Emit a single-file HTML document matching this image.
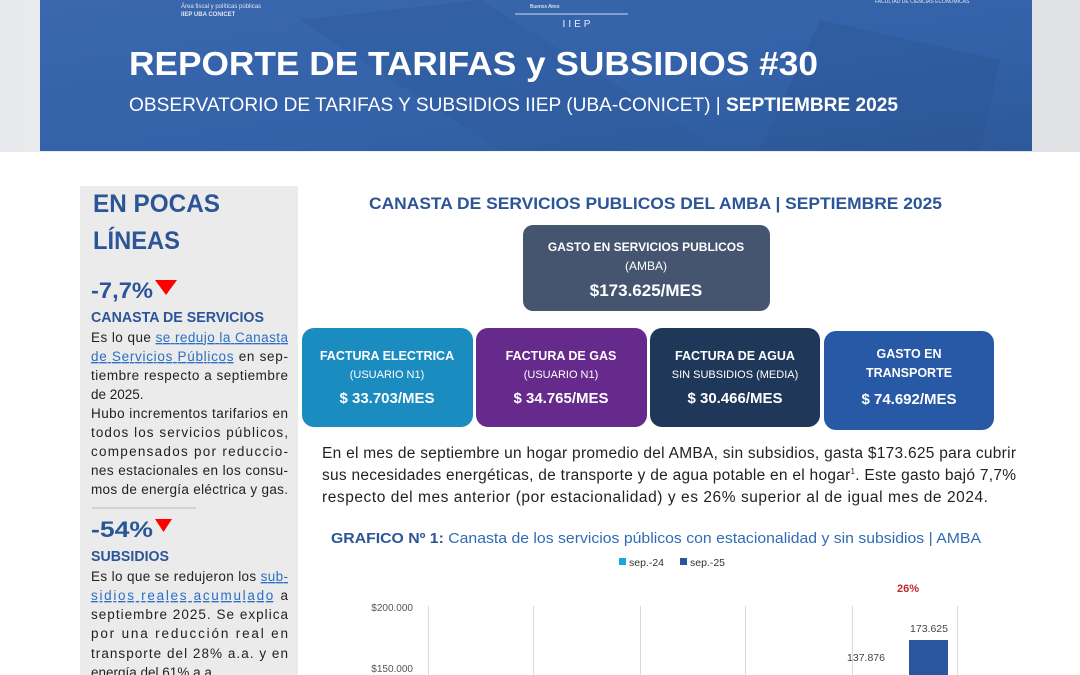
<!DOCTYPE html>
<html><head><meta charset="utf-8"><style>
html,body{margin:0;padding:0;background:#fff;}
svg{display:block;font-family:"Liberation Sans",sans-serif;}
</style></head><body>
<svg width="1080" height="675" viewBox="0 0 1080 675" xmlns="http://www.w3.org/2000/svg">
<defs>
<linearGradient id="bg" x1="0" x2="1">
<stop offset="0" stop-color="#e8e9ec"/><stop offset="0.5" stop-color="#f4f4f6"/><stop offset="1" stop-color="#dfe1e4"/></linearGradient>
<linearGradient id="band" x1="0" x2="1" y1="0" y2="1">
<stop offset="0" stop-color="#3a67ad"/><stop offset="0.6" stop-color="#3362a9"/><stop offset="1" stop-color="#2d5899"/></linearGradient>
</defs>
<rect x="0" y="0" width="1080" height="152" fill="url(#bg)"/>
<rect x="40" y="0" width="992" height="151" fill="url(#band)"/>
<path d="M480 0 L720 150 L500 150 L300 20 Z" fill="#2f5b9c" opacity="0.45"/>
<path d="M820 20 L1000 60 L980 150 L760 150 Z" fill="#2a548f" opacity="0.35"/>
<text x="181" y="8" font-size="6" fill="#dfe6f2">Área fiscal y políticas públicas</text>
<text x="181" y="16" font-size="6" fill="#dfe6f2" font-weight="bold">IIEP UBA CONICET</text>
<text x="530" y="8" font-size="5" fill="#fff">Buenos Aires</text>
<line x1="515" y1="14" x2="628" y2="14" stroke="#cdd8ea" stroke-width="1"/>
<text x="578" y="27" font-size="10" fill="#e8eef8" text-anchor="middle" letter-spacing="3">IIEP</text>
<text x="875" y="3" font-size="5" fill="#dfe6f2">FACULTAD DE CIENCIAS ECONÓMICAS</text>
<text x="129" y="75" font-size="33" font-weight="bold" fill="#fff" textLength="689" lengthAdjust="spacingAndGlyphs">REPORTE DE TARIFAS y SUBSIDIOS #30</text>
<text x="129" y="111" font-size="19" fill="#fff" textLength="769" lengthAdjust="spacingAndGlyphs">OBSERVATORIO DE TARIFAS Y SUBSIDIOS IIEP (UBA-CONICET) | <tspan font-weight="bold">SEPTIEMBRE 2025</tspan></text>

<!-- sidebar -->
<rect x="80" y="186" width="218" height="489" fill="#ebebeb"/>
<g fill="#2c5598" font-weight="bold">
<text x="93" y="212" font-size="25" textLength="127" lengthAdjust="spacingAndGlyphs">EN POCAS</text>
<text x="93" y="249" font-size="25" textLength="87" lengthAdjust="spacingAndGlyphs">LÍNEAS</text>
<text x="91" y="298" font-size="22" textLength="62" lengthAdjust="spacingAndGlyphs">-7,7%</text>
<text x="91" y="322" font-size="14.5" textLength="173" lengthAdjust="spacingAndGlyphs">CANASTA DE SERVICIOS</text>
<text x="91" y="537" font-size="22" textLength="62" lengthAdjust="spacingAndGlyphs">-54%</text>
<text x="91" y="561" font-size="14.5" textLength="78" lengthAdjust="spacingAndGlyphs">SUBSIDIOS</text>
</g>
<path d="M155 280 L177 280 L166 295 Z" fill="#f00"/>
<path d="M155 519 L172 519 L163.5 532 Z" fill="#f00"/>
<line x1="92" y1="508" x2="196" y2="508" stroke="#bbb" stroke-width="1"/>
<g font-size="13.5" fill="#222" lengthAdjust="spacing">
<text x="91" y="342" textLength="197">Es lo que <tspan fill="#2b6fc4" text-decoration="underline">se redujo la Canasta</tspan></text>
<text x="91" y="361" textLength="197"><tspan fill="#2b6fc4" text-decoration="underline">de Servicios Públicos</tspan> en sep-</text>
<text x="91" y="380" textLength="197">tiembre respecto a septiembre</text>
<text x="91" y="399">de 2025.</text>
<text x="91" y="418" textLength="197">Hubo incrementos tarifarios en</text>
<text x="91" y="437" textLength="197">todos los servicios públicos,</text>
<text x="91" y="456" textLength="197">compensados por reduccio-</text>
<text x="91" y="475" textLength="197">nes estacionales en los consu-</text>
<text x="91" y="494" textLength="197">mos de energía eléctrica y gas.</text>
<text x="91" y="581" textLength="197">Es lo que se redujeron los <tspan fill="#2b6fc4" text-decoration="underline">sub-</tspan></text>
<text x="91" y="600" textLength="197"><tspan fill="#2b6fc4" text-decoration="underline">sidios reales acumulado</tspan> a</text>
<text x="91" y="619" textLength="197">septiembre 2025. Se explica</text>
<text x="91" y="638" textLength="197">por una reducción real en</text>
<text x="91" y="658" textLength="197">transporte del 28% a.a. y en</text>
<text x="91" y="677">energía del 61% a.a.</text>
</g>

<!-- main heading -->
<text x="369" y="209" font-size="17" font-weight="bold" fill="#2c5598" textLength="573" lengthAdjust="spacingAndGlyphs">CANASTA DE SERVICIOS PUBLICOS DEL AMBA | SEPTIEMBRE 2025</text>

<rect x="523" y="225" width="247" height="86" rx="10" fill="#455570"/>
<g fill="#fff" text-anchor="middle">
<text x="646" y="251" font-size="12" font-weight="bold">GASTO EN SERVICIOS PUBLICOS</text>
<text x="646" y="270" font-size="12">(AMBA)</text>
<text x="646" y="296" font-size="17" font-weight="bold">$173.625/MES</text>
</g>

<rect x="302" y="328" width="171" height="99" rx="12" fill="#1a8cbf"/>
<rect x="476" y="328" width="171" height="99" rx="12" fill="#66298c"/>
<rect x="650" y="328" width="170" height="99" rx="12" fill="#1f385a"/>
<rect x="824" y="331" width="170" height="99" rx="12" fill="#2759a6"/>
<g fill="#fff" text-anchor="middle">
<text x="387" y="360" font-size="12.5" font-weight="bold">FACTURA ELECTRICA</text>
<text x="387" y="378" font-size="11">(USUARIO N1)</text>
<text x="387" y="403" font-size="15" font-weight="bold">$ 33.703/MES</text>
<text x="561" y="360" font-size="12.5" font-weight="bold">FACTURA DE GAS</text>
<text x="561" y="378" font-size="11">(USUARIO N1)</text>
<text x="561" y="403" font-size="15" font-weight="bold">$ 34.765/MES</text>
<text x="735" y="360" font-size="12.5" font-weight="bold">FACTURA DE AGUA</text>
<text x="735" y="378" font-size="11">SIN SUBSIDIOS (MEDIA)</text>
<text x="735" y="403" font-size="15" font-weight="bold">$ 30.466/MES</text>
<text x="909" y="358" font-size="12.5" font-weight="bold">GASTO EN</text>
<text x="909" y="377" font-size="12.5" font-weight="bold">TRANSPORTE</text>
<text x="909" y="404" font-size="15" font-weight="bold">$ 74.692/MES</text>
</g>

<g font-size="15.5" fill="#222" lengthAdjust="spacingAndGlyphs">
<text x="322" y="458" textLength="694">En el mes de septiembre un hogar promedio del AMBA, sin subsidios, gasta $173.625 para cubrir</text>
<text x="322" y="480" textLength="694">sus necesidades energéticas, de transporte y de agua potable en el hogar<tspan font-size="8" dy="-6">1</tspan><tspan dy="6">. Este gasto bajó 7,7%</tspan></text>
<text x="322" y="502" textLength="666">respecto del mes anterior (por estacionalidad) y es 26% superior al de igual mes de 2024.</text>
</g>

<text x="331" y="543" font-size="14.5" fill="#2f6cb5" textLength="650" lengthAdjust="spacingAndGlyphs"><tspan font-weight="bold" fill="#2c5598">GRAFICO Nº 1:</tspan> Canasta de los servicios públicos con estacionalidad y sin subsidios | AMBA</text>

<rect x="619" y="558" width="7" height="7" fill="#1aa7e0"/>
<text x="629" y="566" font-size="10.5" fill="#333">sep.-24</text>
<rect x="680" y="558" width="7" height="7" fill="#2a56a0"/>
<text x="690" y="566" font-size="10.5" fill="#333">sep.-25</text>

<g stroke="#d9d9d9" stroke-width="1">
<line x1="428.5" y1="606" x2="428.5" y2="675"/>
<line x1="533.5" y1="606" x2="533.5" y2="675"/>
<line x1="640.5" y1="606" x2="640.5" y2="675"/>
<line x1="745.5" y1="606" x2="745.5" y2="675"/>
<line x1="852.5" y1="606" x2="852.5" y2="675"/>
<line x1="957.5" y1="606" x2="957.5" y2="675"/>
</g>
<text x="413" y="611" font-size="10" fill="#555" text-anchor="end">$200.000</text>
<text x="413" y="672" font-size="10" fill="#555" text-anchor="end">$150.000</text>
<text x="908" y="592" font-size="11" font-weight="bold" fill="#c0282d" text-anchor="middle">26%</text>
<text x="929" y="632" font-size="10.5" fill="#444" text-anchor="middle">173.625</text>
<text x="866" y="661" font-size="10.5" fill="#444" text-anchor="middle">137.876</text>
<rect x="909" y="640" width="39" height="35" fill="#2a56a0"/>
</svg>
</body></html>
